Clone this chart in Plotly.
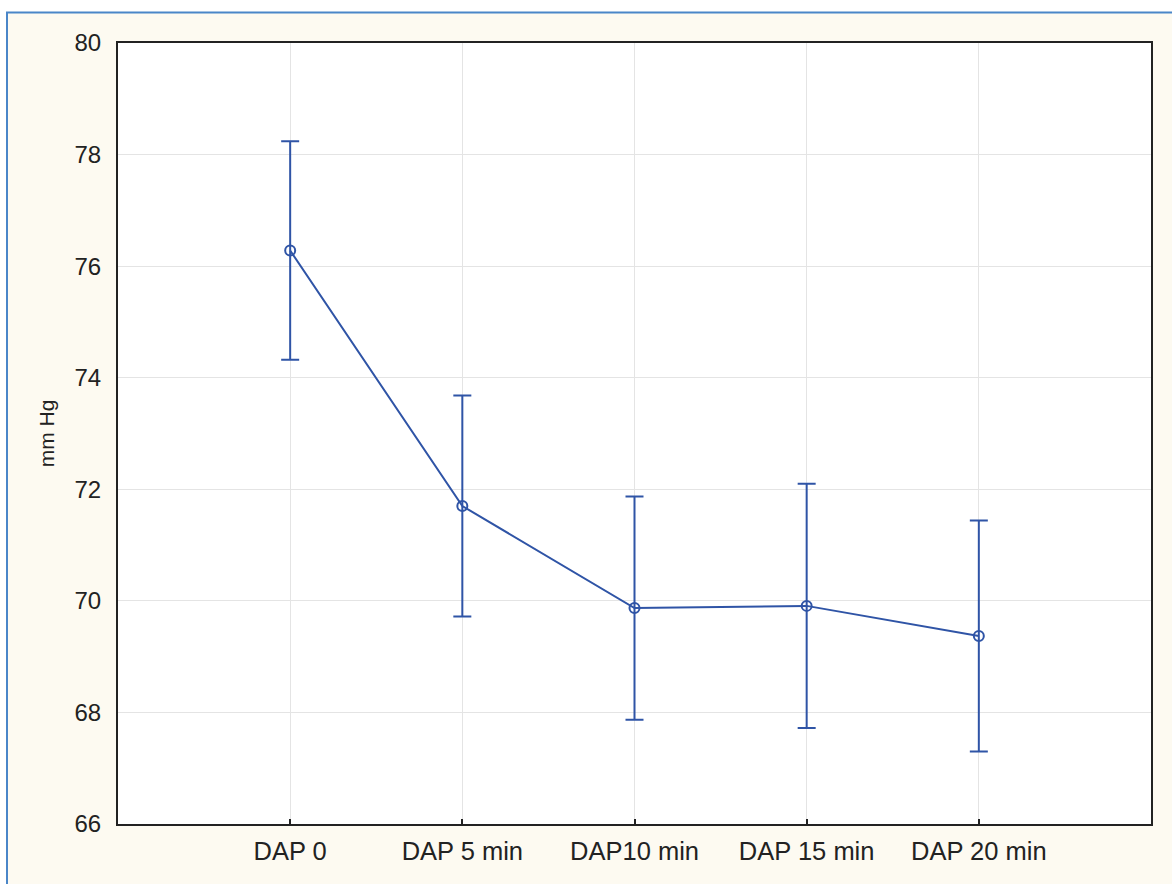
import plotly.graph_objects as go

# Diastolic arterial pressure over time: means with error bars
categories = ["DAP 0", "DAP 5 min", "DAP10 min", "DAP 15 min", "DAP 20 min"]
means = [76.28, 71.70, 69.87, 69.91, 69.37]
errors = [1.96, 1.98, 2.00, 2.19, 2.07]

y_ticks = [66, 68, 70, 72, 74, 76, 78, 80]

blue = "#2F54A6"
W, H = 1172, 884
L, R, T, B = 118, 21, 43, 60
pw, ph = W - L - R, H - T - B


def px_x(x):
    return (x - L) / pw


def px_y(y):
    return (H - B - y) / ph


fig = go.Figure()
fig.add_trace(go.Scatter(
    x=categories,
    y=means,
    mode="lines+markers",
    line=dict(color=blue, width=2),
    marker=dict(symbol="circle-open", size=10, color=blue, line=dict(width=2, color=blue)),
    error_y=dict(type="data", array=errors, visible=True, color=blue, thickness=2, width=9),
    showlegend=False,
))

family = "Liberation Sans, Arial, sans-serif"
y_font = dict(family=family, size=24, color="#222222")
x_font = dict(family=family, size=25.5, color="#222222")

fig.update_layout(
    width=W,
    height=H,
    margin=dict(l=L, r=R, t=T, b=B),
    paper_bgcolor="#FDFAF1",
    plot_bgcolor="white",
    font=y_font,
    xaxis=dict(
        type="category",
        range=[-1, 5],
        showline=True, mirror=True, linecolor="#222222", linewidth=2,
        showgrid=True, gridcolor="#E4E4E4", gridwidth=1,
        ticks="inside", ticklen=5, tickwidth=2, tickcolor="#222222",
        ticklabelstandoff=3,
        tickfont=x_font,
    ),
    yaxis=dict(
        range=[66, 80],
        tickvals=y_ticks,
        showline=True, mirror=True, linecolor="#222222", linewidth=2,
        showgrid=True, gridcolor="#E4E4E4", gridwidth=1,
        zeroline=False,
        ticks="", ticklabelstandoff=10,
        tickfont=y_font,
        title=dict(text="mm Hg", font=dict(family=family, size=21, color="#222222"), standoff=14),
    ),
    shapes=[
        # white strips outside the frame
        dict(type="rect", xref="paper", yref="paper", x0=px_x(0), x1=px_x(W), y0=px_y(0), y1=px_y(12),
             fillcolor="white", line=dict(width=0), layer="below"),
        dict(type="rect", xref="paper", yref="paper", x0=px_x(0), x1=px_x(6), y0=px_y(0), y1=px_y(H),
             fillcolor="white", line=dict(width=0), layer="below"),
        # blue frame lines (top and left)
        dict(type="line", xref="paper", yref="paper", x0=px_x(6), x1=px_x(W), y0=px_y(12.5), y1=px_y(12.5),
             line=dict(color="#4A86C8", width=2)),
        dict(type="line", xref="paper", yref="paper", x0=px_x(7), x1=px_x(7), y0=px_y(12), y1=px_y(H),
             line=dict(color="#4A86C8", width=2)),
    ],
)

fig.write_html("out.html")
